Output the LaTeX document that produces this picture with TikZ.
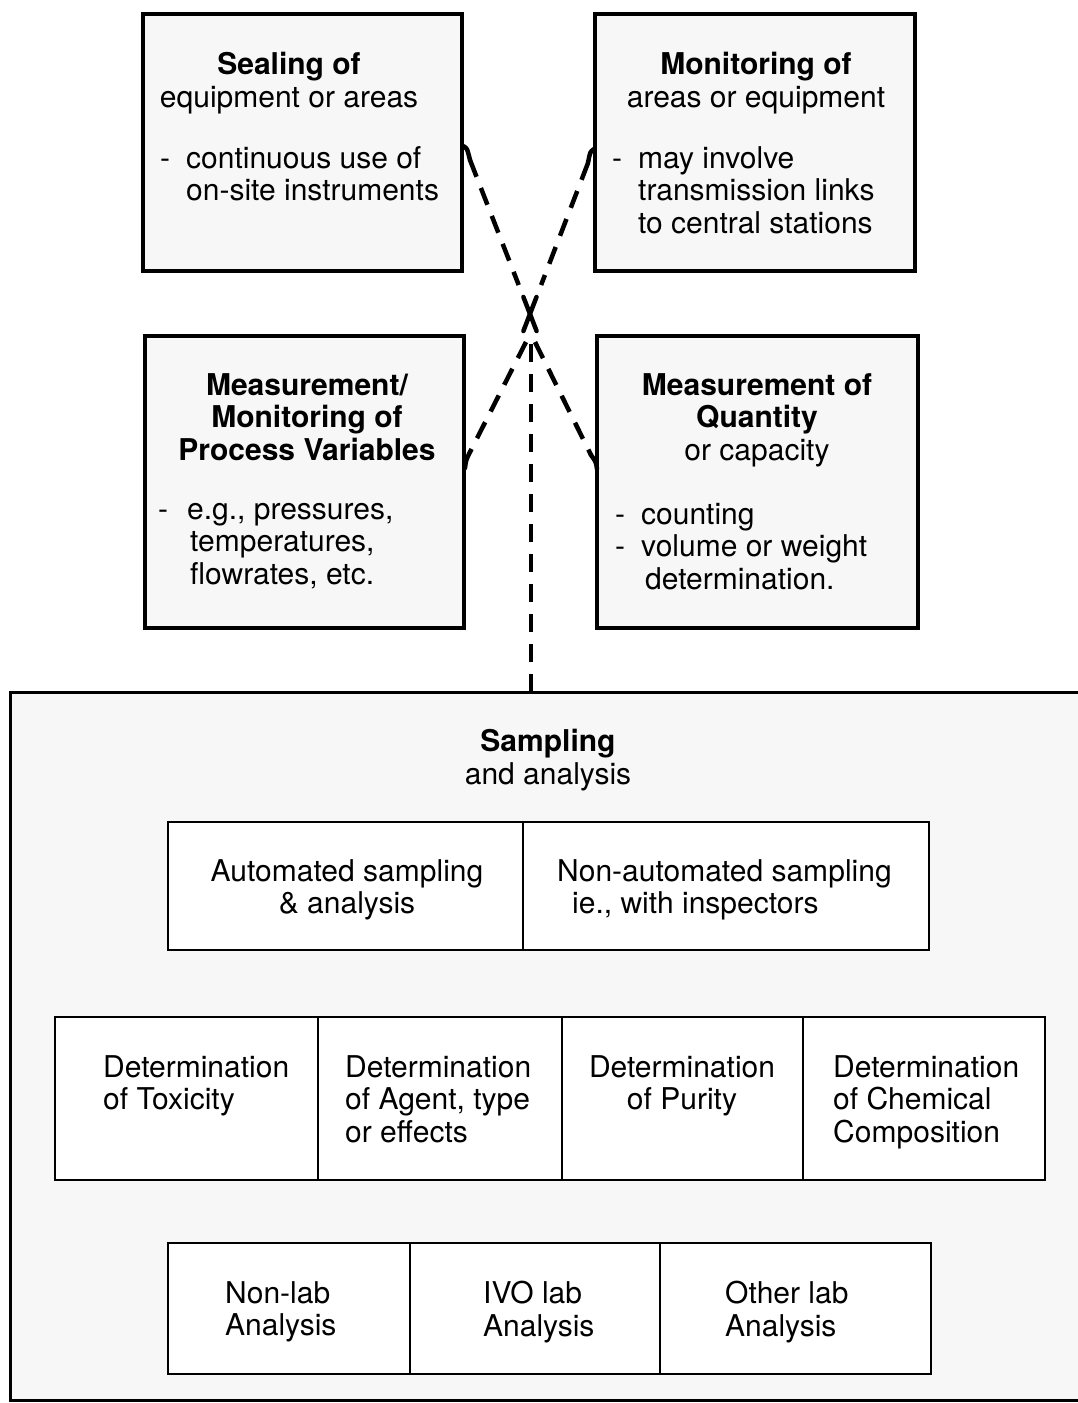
\documentclass[tikz,border=0pt]{standalone}
\usepackage{fontspec}
\setmainfont{TeX Gyre Heros}
\newcommand\dashitem[1]{\makebox[26pt][l]{-}#1}
\newcommand\contitem{\hspace*{26pt}}
\begin{document}
\begin{tikzpicture}[x=1pt,y=-1pt,
  every node/.style={font=\fontsize{30}{32.5}\selectfont, inner sep=0pt},
  topbox/.style={draw, line width=4pt, fill=gray!6},
  bigbox/.style={draw, line width=3pt, fill=gray!6},
  cell/.style={draw, line width=2.8pt, fill=white},
  conn/.style={line width=4.5pt, dash pattern=on 18pt off 12pt},
  hookline/.style={line width=4.5pt, line cap=round},
  txt/.style={align=left, anchor=north west},
  head/.style={align=center, anchor=north}]
\useasboundingbox (0,0) rectangle (1078,1403);
\clip (0,0) rectangle (1078,1403);
\fill[white] (0,0) rectangle (1078,1403);

% top boxes
\node[topbox, minimum width=319pt, minimum height=257pt] (seal) at (302.5,142.5) {};
\node[topbox, minimum width=320pt, minimum height=257pt] (moni) at (755,142.5) {};
\node[topbox, minimum width=319pt, minimum height=292pt] (proc) at (304.5,482) {};
\node[topbox, minimum width=321pt, minimum height=292pt] (quan) at (757.5,482) {};

% big sampling box
\node[bigbox, minimum width=1085pt, minimum height=708pt] (samp) at (552.5,1046) {};

% texts of top boxes
\node[head] (sealH) at (289,52) {\bfseries Sealing of\\equipment or areas};
\node[txt] (sealB) at (160,146) {\dashitem{continuous use of}\\\contitem on-site instruments};
\node[head] (moniH) at (756,52) {\bfseries Monitoring of\\areas or equipment};
\node[txt] (moniB) at (612,146) {\dashitem{may involve}\\\contitem transmission links\\\contitem to central stations};
\node[head] (procH) at (307,373) {\bfseries Measurement/\\\bfseries Monitoring of\\\bfseries Process Variables};
\node[txt] (procB) at (158,503) {\makebox[29pt][l]{-}e.g., pressures,\\\hspace*{32pt}temperatures,\\\hspace*{32pt}flowrates, etc.};
\node[head] (quanH) at (757,373) {\bfseries Measurement of\\\bfseries Quantity\\or capacity};
\node[txt] (quanB) at (615,503) {\dashitem{counting}\\\dashitem{volume or weight}\\\hspace*{30pt}determination.};

% sampling heading
\node[head] (sampH) at (548,729) {\bfseries Sampling\\and analysis};

% row 1
\node[cell, minimum width=355pt, minimum height=128pt] (auto) at (345.5,886) {};
\node[cell, minimum width=406pt, minimum height=128pt] (nonauto) at (726,886) {};
\node[head] (autoT) at (347,859) {Automated sampling\\\&~analysis};
\node[txt] (nonautoT) at (557,859) {Non-automated sampling\\\hspace*{15pt}ie., with inspectors};

% row 2
\node[cell, minimum width=263pt, minimum height=163pt] (tox) at (186.5,1098.5) {};
\node[cell, minimum width=244pt, minimum height=163pt] (agent) at (440,1098.5) {};
\node[cell, minimum width=241pt, minimum height=163pt] (pur) at (682.5,1098.5) {};
\node[cell, minimum width=242pt, minimum height=163pt] (chem) at (924,1098.5) {};
\node[txt] (toxT) at (103,1055) {Determination\\of Toxicity};
\node[txt] (agentT) at (345,1055) {Determination\\of Agent, type\\or effects};
\node[head] (purT) at (682,1055) {Determination\\of Purity};
\node[txt] (chemT) at (833,1055) {Determination\\of Chemical\\Composition};

% row 3
\node[cell, minimum width=242pt, minimum height=131pt] (nonlab) at (289,1308.5) {};
\node[cell, minimum width=250pt, minimum height=131pt] (ivo) at (535,1308.5) {};
\node[cell, minimum width=271pt, minimum height=131pt] (other) at (795.5,1308.5) {};
\node[txt] (nonlabT) at (225,1281) {Non-lab\\Analysis};
\node[txt] (ivoT) at (483,1281) {IVO lab\\Analysis};
\node[txt] (otherT) at (725,1281) {Other lab\\Analysis};

% connector coordinates
\coordinate (hub) at (530,314);
\coordinate (ulE) at (463,146);
\coordinate (ulS) at (470,160);
\coordinate (ulD) at (518.7,285);
\coordinate (ulX) at (523.4,297);
\coordinate (ulY) at (536.6,331);
\coordinate (urE) at (594,149);
\coordinate (urS) at (588,163);
\coordinate (urD) at (541.1,285);
\coordinate (urX) at (536.5,297);
\coordinate (urY) at (523.4,331);
\coordinate (llS) at (526,342);
\coordinate (llD) at (470,452);
\coordinate (llE) at (465,468);
\coordinate (lrS) at (535,342);
\coordinate (lrD) at (591,455);
\coordinate (lrE) at (597,469);
\coordinate (vS) at (531,344);
\coordinate (vE) at (531,692);

% upper connectors
\draw[hookline] (ulE) .. controls (467,148) .. (ulS);
\draw[conn] (ulS) -- (ulD);
\draw[hookline] (ulX) -- (ulY);
\draw[hookline] (urE) .. controls (590,152) .. (urS);
\draw[conn] (urS) -- (urD);
\draw[hookline] (urX) -- (urY);
% lower connectors
\draw[conn] (llS) -- (llD);
\draw[hookline] (llD) .. controls (466,460) .. (llE);
\draw[conn] (lrS) -- (lrD);
\draw[hookline] (lrD) .. controls (596,462) .. (lrE);
% vertical connector to sampling box
\draw[conn] (vS) -- (vE);
\end{tikzpicture}
\end{document}
